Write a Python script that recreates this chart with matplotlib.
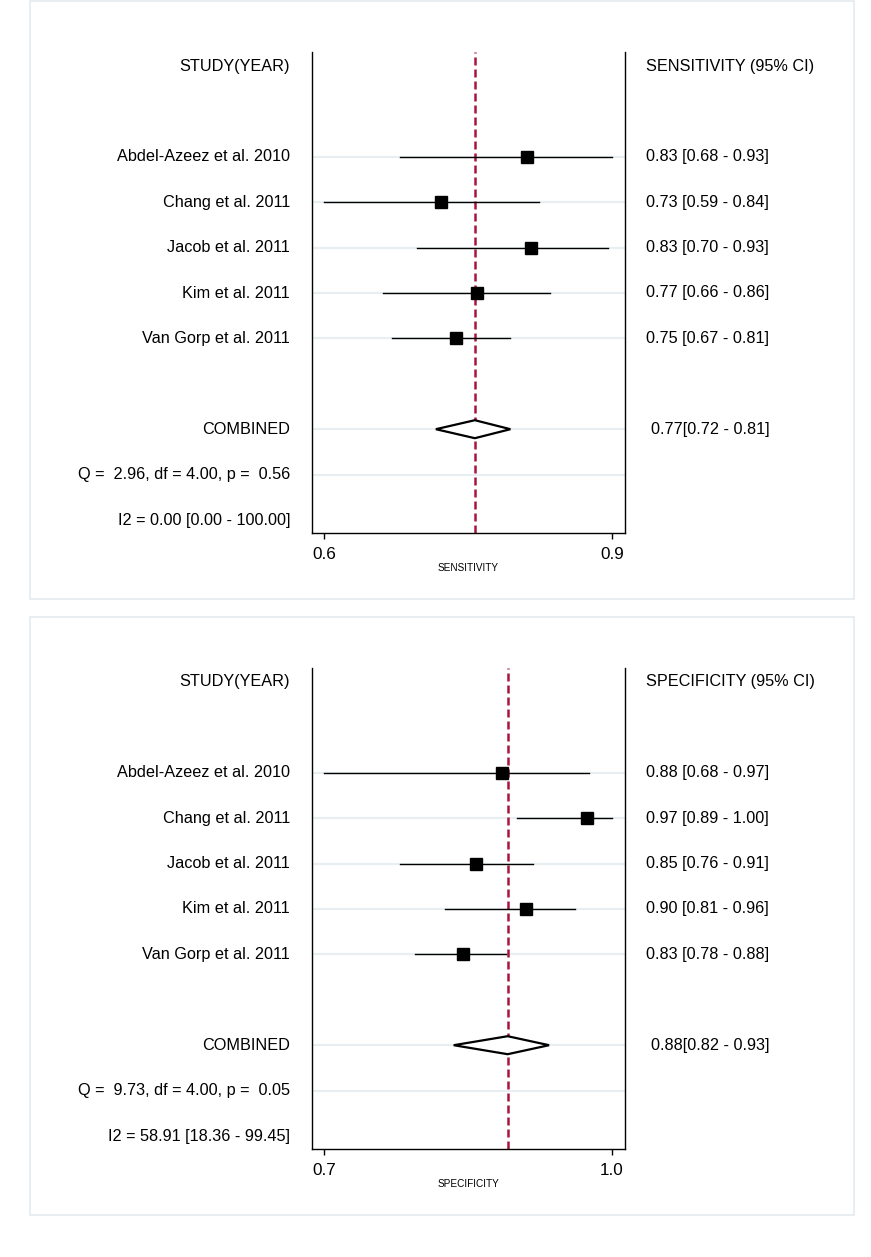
import matplotlib
matplotlib.use("Agg")
import matplotlib.pyplot as plt
from matplotlib.patches import Rectangle, Polygon

plt.rcParams['font.family'] = ['Liberation Sans', 'DejaVu Sans']

studies = ["Abdel-Azeez et al. 2010", "Chang et al. 2011", "Jacob et al. 2011",
           "Kim et al. 2011", "Van Gorp et al. 2011"]

sens_est = [0.83, 0.728, 0.834, 0.771, 0.746]
sens_lo = [0.68, 0.59, 0.70, 0.66, 0.67]
sens_hi = [0.93, 0.844, 0.925, 0.857, 0.81]
sens_comb = [0.768, 0.722, 0.81]
sens_q = "Q =  2.96, df = 4.00, p =  0.56"
sens_i2 = "I2 = 0.00 [0.00 - 100.00]"

spec_est = [0.878, 0.972, 0.849, 0.904, 0.834]
spec_lo = [0.68, 0.894, 0.764, 0.814, 0.781]
spec_hi = [0.974, 1.00, 0.912, 0.959, 0.882]
spec_comb = [0.884, 0.824, 0.93]
spec_q = "Q =  9.73, df = 4.00, p =  0.05"
spec_i2 = "I2 = 58.91 [18.36 - 99.45]"

W, H = 871, 1257
fig = plt.figure(figsize=(W / 100, H / 100), dpi=100)
fig.patch.set_facecolor('white')

GRID = '#E8EEF1'
BOX = '#E3EAEE'
RED = '#A8163E'
FS = 11.7


def panel(top_px, name, est, lo, hi, comb, qtxt, i2txt):
    fig.add_artist(Rectangle((30 / W, 1 - (top_px + 598 - 52 + 1) / H), 824 / W, 598 / H,
                             transform=fig.transFigure, fill=False, edgecolor=BOX, lw=1.2))
    ax_top = top_px
    ax_bot = top_px + 481
    ax = fig.add_axes([312 / W, 1 - ax_bot / H, 313 / W, (ax_bot - ax_top) / H])
    n = len(studies)
    rows = list(range(2, 2 + n))
    crow = 2 + n + 1
    qrow = crow + 1
    irow = crow + 2
    spacing = 45.4
    ax.set_ylim(irow + 13 / spacing, -14 / spacing)
    xmin, xmax = min(lo), max(hi)
    rng = xmax - xmin
    ax.set_xlim(xmin - 0.042 * rng, xmax + 0.045 * rng)
    for r in rows + [crow, qrow]:
        ax.axhline(r, color=GRID, lw=1.6, zorder=0)
    ax.axvline(comb[0], color=RED, lw=1.8, ls=(0, (3.2, 1.6)), zorder=1)
    for r, e, l, h in zip(rows, est, lo, hi):
        ax.plot([l, h], [r, r], color='black', lw=1.0, zorder=2)
        ax.plot([e], [r], marker='s', ms=9.2, color='black', zorder=3)
    hh = 9 / spacing
    ax.add_patch(Polygon([(comb[1], crow), (comb[0], crow - hh), (comb[2], crow),
                          (comb[0], crow + hh)], closed=True, facecolor='white',
                         edgecolor='black', lw=1.6, zorder=3))
    ax.spines['top'].set_visible(False)
    for s in ['left', 'right', 'bottom']:
        ax.spines[s].set_linewidth(1.0)
    ax.set_yticks([])
    ax.set_xticks([xmin, xmax])
    ax.set_xticklabels([f"{xmin:.1f}", f"{xmax:.1f}"], fontsize=12.3)
    ax.tick_params(axis='x', direction='out', length=4, width=1, pad=6)
    ax.set_xlabel(name, fontsize=7.2, labelpad=1)
    xl = -22 / 313
    xr = 1 + 21 / 313
    tr = ax.get_yaxis_transform()
    ax.text(xl, 0, "STUDY(YEAR)", transform=tr, ha='right', va='center', fontsize=FS)
    ax.text(xr, 0, f"{name} (95% CI)", transform=tr, ha='left', va='center', fontsize=FS)
    for r, s, e, l, h in zip(rows, studies, est, lo, hi):
        ax.text(xl, r, s, transform=tr, ha='right', va='center', fontsize=FS)
        ax.text(xr, r, f"{e:.2f} [{l:.2f} - {h:.2f}]", transform=tr, ha='left',
                va='center', fontsize=FS)
    ax.text(xl, crow, "COMBINED", transform=tr, ha='right', va='center', fontsize=FS)
    ax.text(xr + 5 / 313, crow, f"{comb[0]:.2f}[{comb[1]:.2f} - {comb[2]:.2f}]",
            transform=tr, ha='left', va='center', fontsize=FS)
    ax.text(xl, qrow, qtxt, transform=tr, ha='right', va='center', fontsize=FS)
    ax.text(xl, irow, i2txt, transform=tr, ha='right', va='center', fontsize=FS)


panel(52, "SENSITIVITY", sens_est, sens_lo, sens_hi, sens_comb, sens_q, sens_i2)
panel(668, "SPECIFICITY", spec_est, spec_lo, spec_hi, spec_comb, spec_q, spec_i2)

fig.savefig("out.png", dpi=100)
